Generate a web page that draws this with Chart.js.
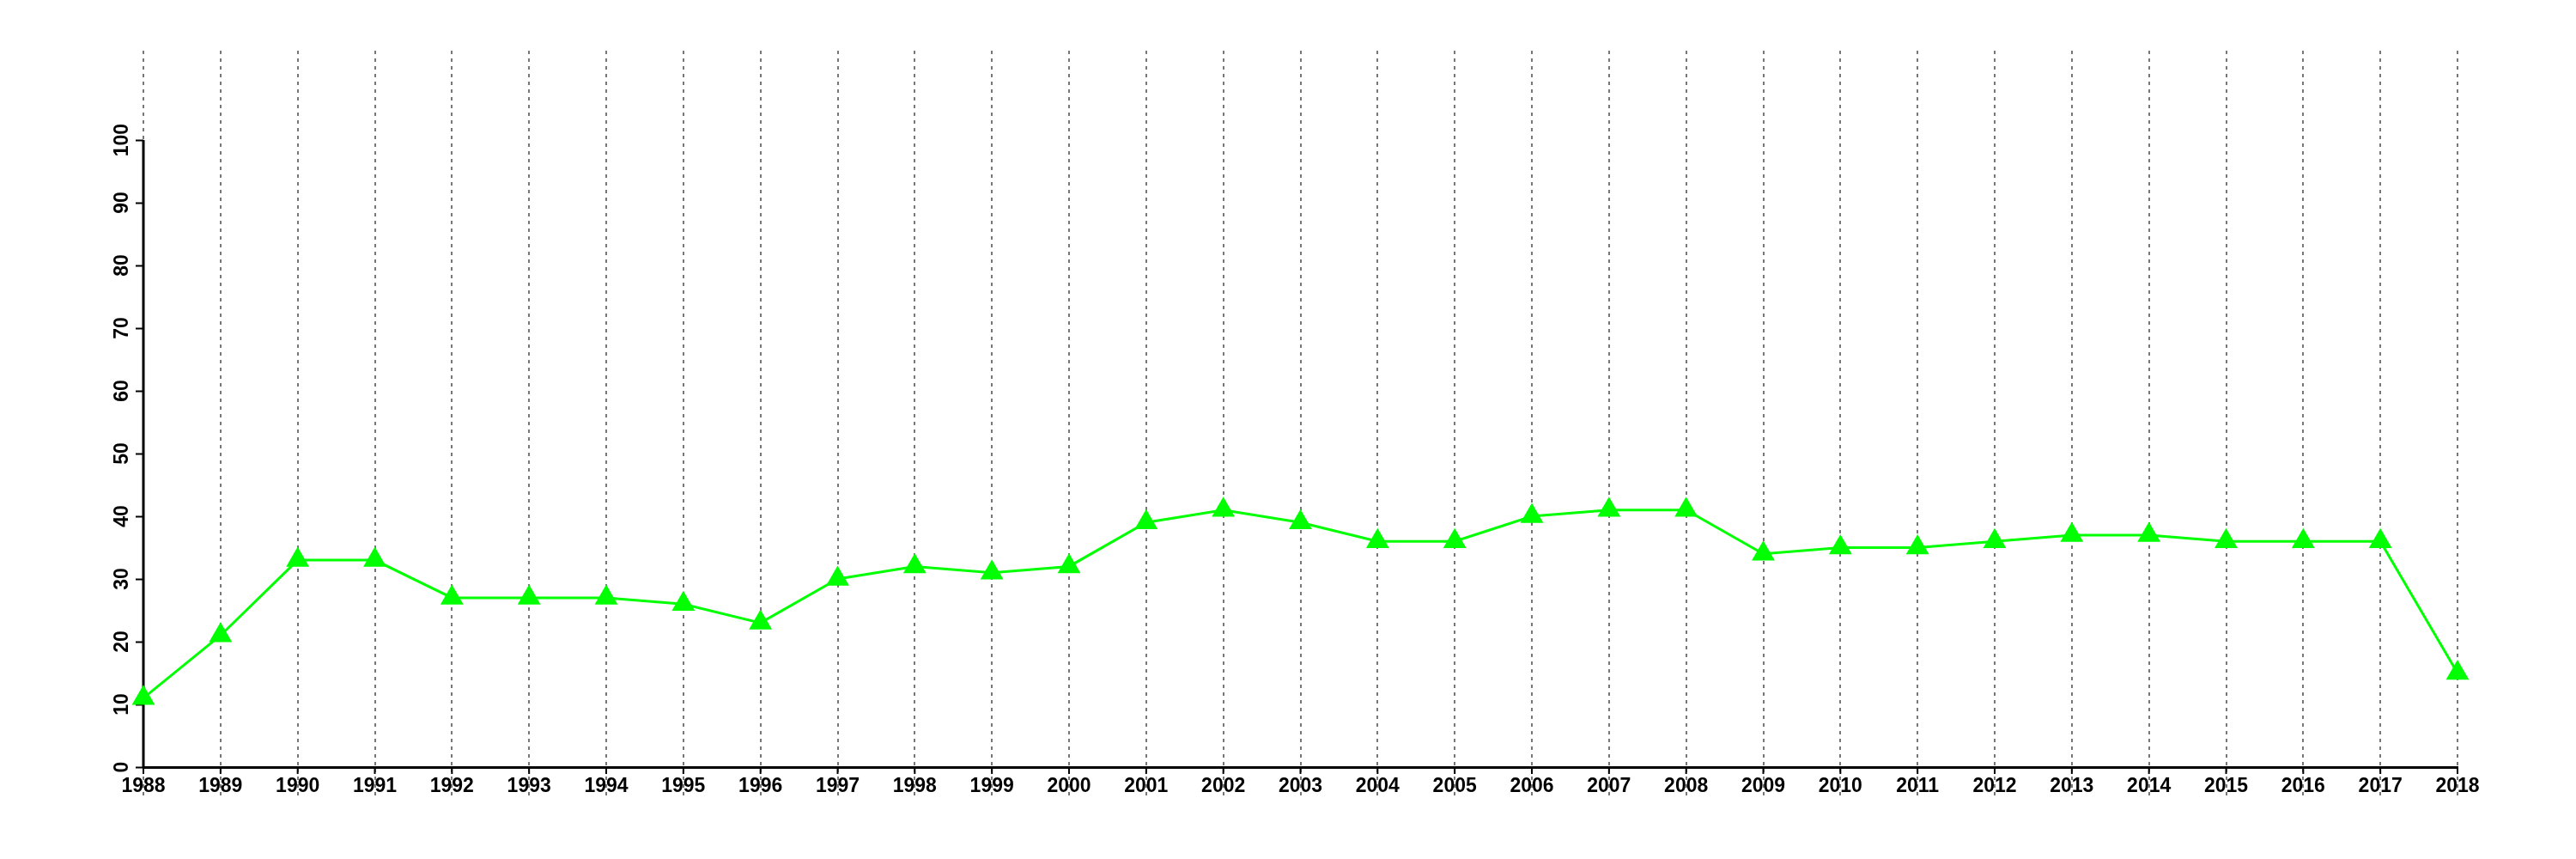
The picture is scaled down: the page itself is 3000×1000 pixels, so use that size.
<!DOCTYPE html>
<html>
<head>
<meta charset="utf-8">
<script src="https://cdn.jsdelivr.net/npm/chart.js@4"></script>
<style>
  html, body { margin: 0; padding: 0; background: #fff; }
  canvas { display: block; }
</style>
</head>
<body>
<canvas id="chart" width="3000" height="1000"></canvas>
<script>
// --- dados ---
const years = [1988, 1989, 1990, 1991, 1992, 1993, 1994, 1995, 1996, 1997,
               1998, 1999, 2000, 2001, 2002, 2003, 2004, 2005, 2006, 2007,
               2008, 2009, 2010, 2011, 2012, 2013, 2014, 2015, 2016, 2017, 2018];
const values = [11, 21, 33, 33, 27, 27, 27, 26, 23, 30,
                32, 31, 32, 39, 41, 39, 36, 36, 40, 41,
                41, 34, 35, 35, 36, 37, 37, 36, 36, 36, 15];
const yTicks = [0, 10, 20, 30, 40, 50, 60, 70, 80, 90, 100];

const tickFont = { family: "'Liberation Sans', Arial, sans-serif", size: 23, weight: 'bold' };

// eixo Y sólido só de 0 a 100, e marcas curtas pretas no eixo X
const axisPlugin = {
    id: 'axisLines',
    beforeDatasetsDraw(chart) {
        const ctx = chart.ctx;
        const x = chart.scales.x, y = chart.scales.y;
        const left = chart.chartArea.left, bottom = chart.chartArea.bottom;
        ctx.save();
        ctx.strokeStyle = '#000';
        ctx.lineWidth = 3;
        ctx.beginPath();
        ctx.moveTo(left, y.getPixelForValue(yTicks[0]) + 1.5);
        ctx.lineTo(left, y.getPixelForValue(yTicks[yTicks.length - 1]));
        ctx.stroke();
        ctx.lineWidth = 2;
        years.forEach(v => {
            const px = x.getPixelForValue(v);
            ctx.beginPath();
            ctx.moveTo(px, bottom);
            ctx.lineTo(px, bottom + 8);
            ctx.stroke();
        });
        ctx.restore();
    }
};

new Chart(document.getElementById('chart'), {
    type: 'line',
    data: {
        datasets: [{
            data: years.map((yr, i) => ({ x: yr, y: values[i] })),
            borderColor: '#00ff00',
            borderWidth: 3,
            backgroundColor: '#00ff00',
            pointStyle: 'triangle',
            pointRadius: 15.5,
            pointBorderWidth: 0,
            pointBackgroundColor: '#00ff00',
            tension: 0,
            clip: false
        }]
    },
    options: {
        responsive: false,
        animation: false,
        layout: { padding: { left: 107, right: 138, top: 59, bottom: 47 } },
        plugins: { legend: { display: false }, tooltip: { enabled: false } },
        scales: {
            x: {
                type: 'linear',
                min: years[0],
                max: years[years.length - 1],
                afterBuildTicks: s => { s.ticks = years.map(v => ({ value: v })); },
                afterFit: s => { s.height = 60; },
                ticks: {
                    autoSkip: false,
                    maxRotation: 0,
                    padding: -25,
                    color: '#000',
                    font: tickFont,
                    callback: v => String(v)
                },
                grid: {
                    color: '#777',
                    lineWidth: 2,
                    drawTicks: true,
                    tickLength: 34,
                    tickColor: '#777',
                    tickWidth: 2,
                    tickBorderDash: [4, 5]
                },
                border: { display: true, color: '#000', width: 3, dash: [4, 5] }
            },
            y: {
                type: 'linear',
                min: 0,
                max: 114.25,
                afterBuildTicks: s => { s.ticks = yTicks.map(v => ({ value: v })); },
                afterFit: s => { s.width = 60; },
                ticks: {
                    minRotation: 90,
                    maxRotation: 90,
                    crossAlign: 'center',
                    padding: -4,
                    color: '#000',
                    font: tickFont,
                    callback: v => String(v)
                },
                grid: {
                    drawOnChartArea: false,
                    drawTicks: true,
                    tickLength: 9,
                    tickColor: '#000',
                    tickWidth: 2
                },
                border: { display: false }
            }
        }
    },
    plugins: [axisPlugin]
});
</script>
</body>
</html>
